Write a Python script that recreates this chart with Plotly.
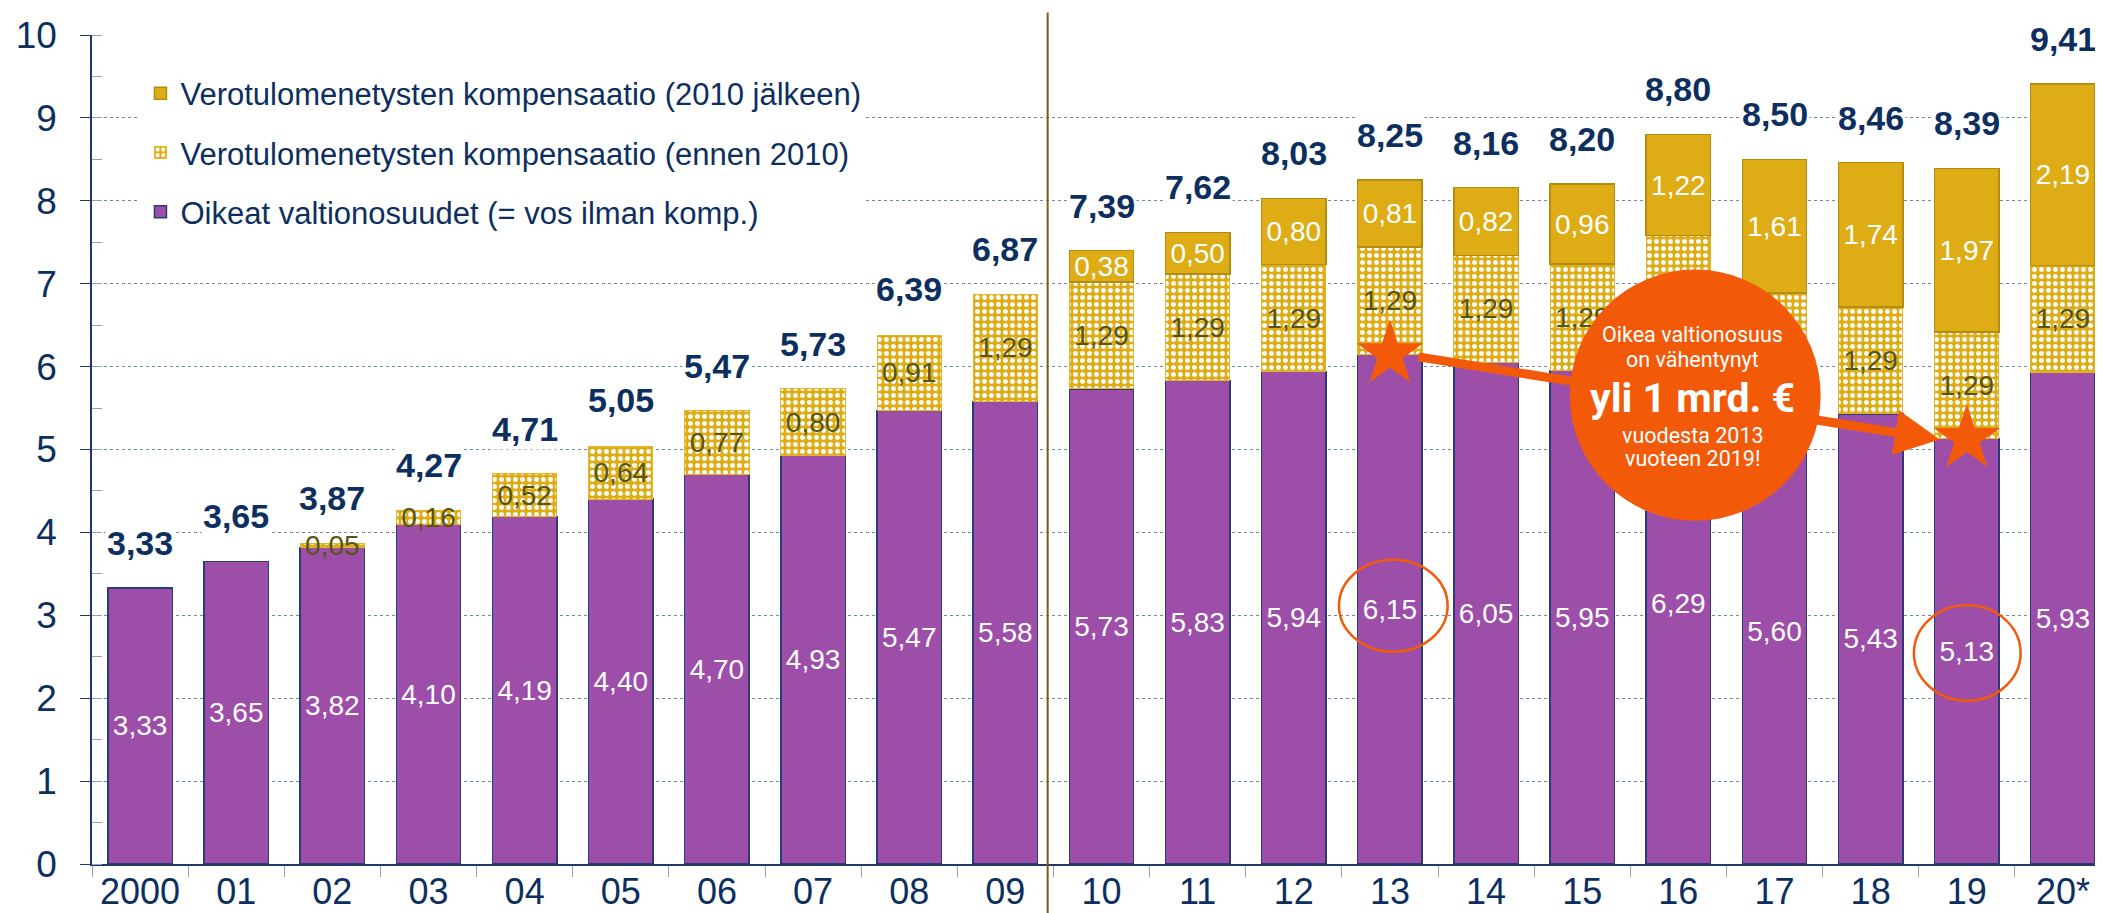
import plotly.graph_objects as go

years = ["2000", "01", "02", "03", "04", "05", "06", "07", "08", "09",
         "10", "11", "12", "13", "14", "15", "16", "17", "18", "19", "20*"]
oikeat = [3.33, 3.65, 3.82, 4.10, 4.19, 4.40, 4.70, 4.93, 5.47, 5.58,
          5.73, 5.83, 5.94, 6.15, 6.05, 5.95, 6.29, 5.60, 5.43, 5.13, 5.93]
ennen2010 = [0, 0, 0.05, 0.16, 0.52, 0.64, 0.77, 0.80, 0.91, 1.29,
             1.29, 1.29, 1.29, 1.29, 1.29, 1.29, 1.29, 1.29, 1.29, 1.29, 1.29]
jalkeen2010 = [0, 0, 0, 0, 0, 0, 0, 0, 0, 0,
               0.38, 0.50, 0.80, 0.81, 0.82, 0.96, 1.22, 1.61, 1.74, 1.97, 2.19]
totals = [3.33, 3.65, 3.87, 4.27, 4.71, 5.05, 5.47, 5.73, 6.39, 6.87,
          7.39, 7.62, 8.03, 8.25, 8.16, 8.20, 8.80, 8.50, 8.46, 8.39, 9.41]
names = ["Oikeat valtionosuudet (= vos ilman komp.)",
         "Verotulomenetysten kompensaatio (ennen 2010)",
         "Verotulomenetysten kompensaatio (2010 jälkeen)"]
callout_lines = ["Oikea valtionosuus", "on vähentynyt", "yli 1 mrd. €",
                 "vuodesta 2013", "vuoteen 2019!"]
# pattern-segment labels that sit under the orange callout in the original
hidden_labels = ["16", "17"]


def fmt(v):
    return ("%.2f" % v).replace(".", ",") if v > 0 else ""


def nz(vals):
    return [v if v > 0 else None for v in vals]


PURPLE = "#9D4EA8"
GOLD = "#DEAD16"
NAVY = "#0D2F5F"
ORANGE = "#F25A0A"
FONT = "Liberation Sans, Arial, sans-serif"

fig = go.Figure()
fig.add_trace(go.Bar(
    x=years, y=nz(oikeat), name=names[0], legendgroup="a", legendrank=3,
    marker=dict(color=PURPLE, line=dict(color="#2B3A78", width=1.5)),
    text=[fmt(v) for v in oikeat], textposition="inside", insidetextanchor="middle",
    textangle=0, textfont=dict(color="white", size=28, family=FONT),
))
fig.add_trace(go.Bar(
    x=years, y=nz(ennen2010), name=names[1], legendgroup="b", legendrank=2,
    marker=dict(color=GOLD, line=dict(color="#E2B52A", width=1),
                pattern=dict(shape=".", fgcolor="white", bgcolor=GOLD,
                             size=7, solidity=0.4, fillmode="replace")),
    text=["" if yr in hidden_labels else fmt(v) for yr, v in zip(years, ennen2010)],
    textposition="inside", insidetextanchor="middle",
    textangle=0, textfont=dict(color="#555512", size=28, family=FONT),
))
fig.add_trace(go.Bar(
    x=years, y=nz(jalkeen2010), name=names[2], legendgroup="c", legendrank=1,
    marker=dict(color=GOLD, line=dict(color="#B48C10", width=1.5)),
    text=[fmt(v) for v in jalkeen2010], textposition="inside", insidetextanchor="middle",
    textangle=0, textfont=dict(color="white", size=28, family=FONT),
))

# stars on 2013 and 2019
fig.add_trace(go.Scatter(
    x=[years[13], years[19]], y=[oikeat[13], oikeat[19]], mode="markers",
    marker=dict(symbol="star", size=50, color=ORANGE, line=dict(width=0)),
    showlegend=False, hoverinfo="skip",
))

# totals
for i, t in enumerate(totals):
    fig.add_annotation(x=i, y=t, text=fmt(t), showarrow=False, yanchor="middle",
                       yshift=45, bgcolor="white",
                       font=dict(family=FONT, size=34, color=NAVY, weight="bold"))

# divider line between 09 and 10
fig.add_shape(type="line", xref="x", yref="paper", x0=9.44, x1=9.44, y0=-0.07, y1=1.027,
              line=dict(color="#7A5C1F", width=2), layer="above")

# thin circles around 6,15 and 5,13
fig.add_shape(type="circle", xref="x", yref="y", x0=12.47, x1=13.6, y0=2.56, y1=3.67,
              line=dict(color=ORANGE, width=2.5), layer="above")
fig.add_shape(type="circle", xref="x", yref="y", x0=18.45, x1=19.56, y0=1.97, y1=3.12,
              line=dict(color=ORANGE, width=2.5), layer="above")

# arrow
fig.add_annotation(x=18.72, y=5.12, ax=13.28, ay=6.12, xref="x", yref="y",
                   axref="x", ayref="y", text="", showarrow=True, arrowhead=2,
                   arrowsize=1, arrowwidth=9, arrowcolor=ORANGE, standoff=0, startstandoff=0)

# callout ellipse
fig.add_shape(type="circle", xref="x", yref="y", x0=14.87, x1=17.48, y0=4.14, y1=7.17,
              fillcolor=ORANGE, line=dict(width=0), layer="above")
ys = [6.39, 6.09, 5.62, 5.17, 4.89]
for k, (txt, yy) in enumerate(zip(callout_lines, ys)):
    big = k == 2
    fig.add_annotation(x=16.15, y=yy, text=txt, showarrow=False,
                       font=dict(family="Roboto, sans-serif", size=41 if big else 21.5,
                                 color="white", weight="bold" if big else "normal"))

fig.update_layout(
    barmode="stack", bargap=0.33,
    width=2103, height=913,
    margin=dict(l=84, r=0, t=27, b=57),
    plot_bgcolor="white", paper_bgcolor="white",
    font=dict(family=FONT, color=NAVY),
    uniformtext=dict(minsize=28, mode="show"),
    legend=dict(x=0.024, y=0.962, xanchor="left", yanchor="top",
                bgcolor="white", traceorder="grouped", tracegroupgap=16,
                font=dict(family=FONT, size=31, color=NAVY)),
    showlegend=True,
)
fig.update_xaxes(type="category", showline=True, linecolor="#1F3864", linewidth=2,
                 ticks="outside", tickson="boundaries", ticklen=11, tickcolor="#8FA3C0",
                 ticklabelstandoff=-5,
                 tickfont=dict(family=FONT, size=36, color=NAVY), showgrid=False)
fig.update_yaxes(range=[0, 10], dtick=1, showgrid=True, gridcolor="#7088AA", griddash="dot",
                 gridwidth=1, zeroline=False, showline=True, linecolor="#1F3864", linewidth=1.5,
                 ticks="outside", ticklen=10, tickcolor="#1F3864", ticklabelstandoff=16,
                 tickfont=dict(family=FONT, size=37, color=NAVY),
                 minor=dict(dtick=0.5, ticks="inside", ticklen=10, tickcolor="#8FA3C0",
                            showgrid=False))

fig.write_html("out.html")
